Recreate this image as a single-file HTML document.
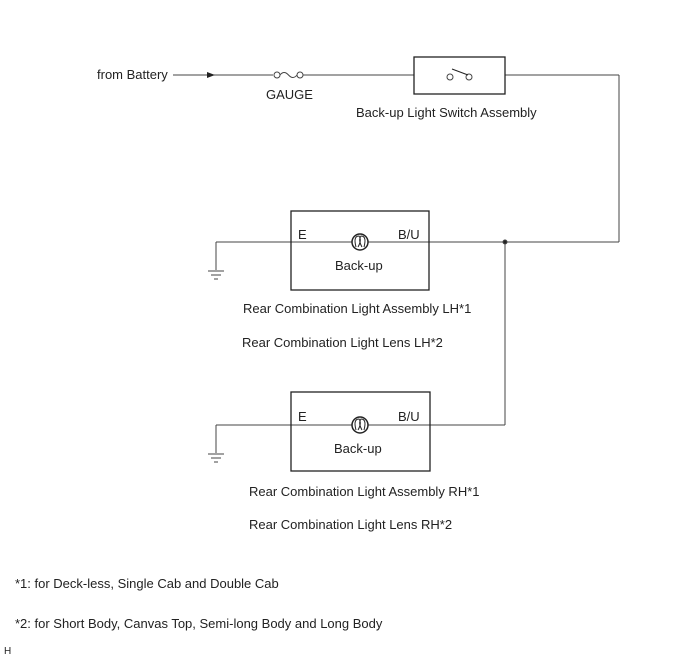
<!DOCTYPE html>
<html><head><style>
body{margin:0;background:#fff}
svg text{font-family:"Liberation Sans",Arial,sans-serif;font-size:13px;fill:#222}
</style></head><body>
<svg width="688" height="658" viewBox="0 0 688 658" xmlns="http://www.w3.org/2000/svg">
<g stroke="#444" stroke-width="1" fill="none">
<line x1="173" y1="75" x2="273" y2="75"/>
<line x1="303" y1="75" x2="414" y2="75"/>
<line x1="505" y1="75" x2="619" y2="75"/>
<line x1="619" y1="75" x2="619" y2="242"/>
<circle cx="277" cy="75" r="3" fill="#fff"/>
<circle cx="300" cy="75" r="3" fill="#fff"/>
<path d="M280 75 Q284 70 288.5 75 Q293 80 297 75"/>
<rect x="414" y="57" width="91" height="37" stroke="#222" stroke-width="1.3"/>
<circle cx="450" cy="77" r="3" fill="#fff"/>
<circle cx="469" cy="77" r="3" fill="#fff"/>
<line x1="452" y1="69" x2="468" y2="75" stroke="#222"/>
<!-- LH -->
<line x1="216" y1="242" x2="352" y2="242"/>
<line x1="368" y1="242" x2="619" y2="242"/>
<line x1="216" y1="242" x2="216" y2="270"/>
<line x1="208" y1="271" x2="224" y2="271"/>
<line x1="211" y1="275" x2="221" y2="275"/>
<line x1="214" y1="279" x2="218" y2="279"/>
<rect x="291" y="211" width="138" height="79" stroke="#222" stroke-width="1.3"/>
<circle cx="360" cy="242" r="8" stroke="#222" stroke-width="1.5"/>
<path d="M356 247 Q353 236 359 236 Q362 240 358 247 M364 247 Q367 236 361 236 Q358 240 362 247" stroke="#222"/>
<!-- RH -->
<line x1="505" y1="242" x2="505" y2="425"/>
<circle cx="505" cy="242" r="2" fill="#222"/>
<line x1="216" y1="425" x2="352" y2="425"/>
<line x1="368" y1="425" x2="505" y2="425"/>
<line x1="216" y1="425" x2="216" y2="453"/>
<line x1="208" y1="454" x2="224" y2="454"/>
<line x1="211" y1="458" x2="221" y2="458"/>
<line x1="214" y1="462" x2="218" y2="462"/>
<rect x="291" y="392" width="139" height="79" stroke="#222" stroke-width="1.3"/>
<circle cx="360" cy="425" r="8" stroke="#222" stroke-width="1.5"/>
<path d="M356 430 Q353 419 359 419 Q362 423 358 430 M364 430 Q367 419 361 419 Q358 423 362 430" stroke="#222"/>
</g>
<polygon points="207,72 215,75 207,78" fill="#222"/>
<text x="97" y="79">from Battery</text>
<text x="266" y="99">GAUGE</text>
<text x="356" y="117">Back-up Light Switch Assembly</text>
<text x="298" y="239">E</text>
<text x="398" y="239">B/U</text>
<text x="335" y="270">Back-up</text>
<text x="243" y="313">Rear Combination Light Assembly LH*1</text>
<text x="242" y="347">Rear Combination Light Lens LH*2</text>
<text x="298" y="421">E</text>
<text x="398" y="421">B/U</text>
<text x="334" y="453">Back-up</text>
<text x="249" y="496">Rear Combination Light Assembly RH*1</text>
<text x="249" y="529">Rear Combination Light Lens RH*2</text>
<text x="15" y="588">*1: for Deck-less, Single Cab and Double Cab</text>
<text x="15" y="628">*2: for Short Body, Canvas Top, Semi-long Body and Long Body</text>
<text x="4" y="654" style="font-size:10px">H</text>
</svg>
</body></html>
